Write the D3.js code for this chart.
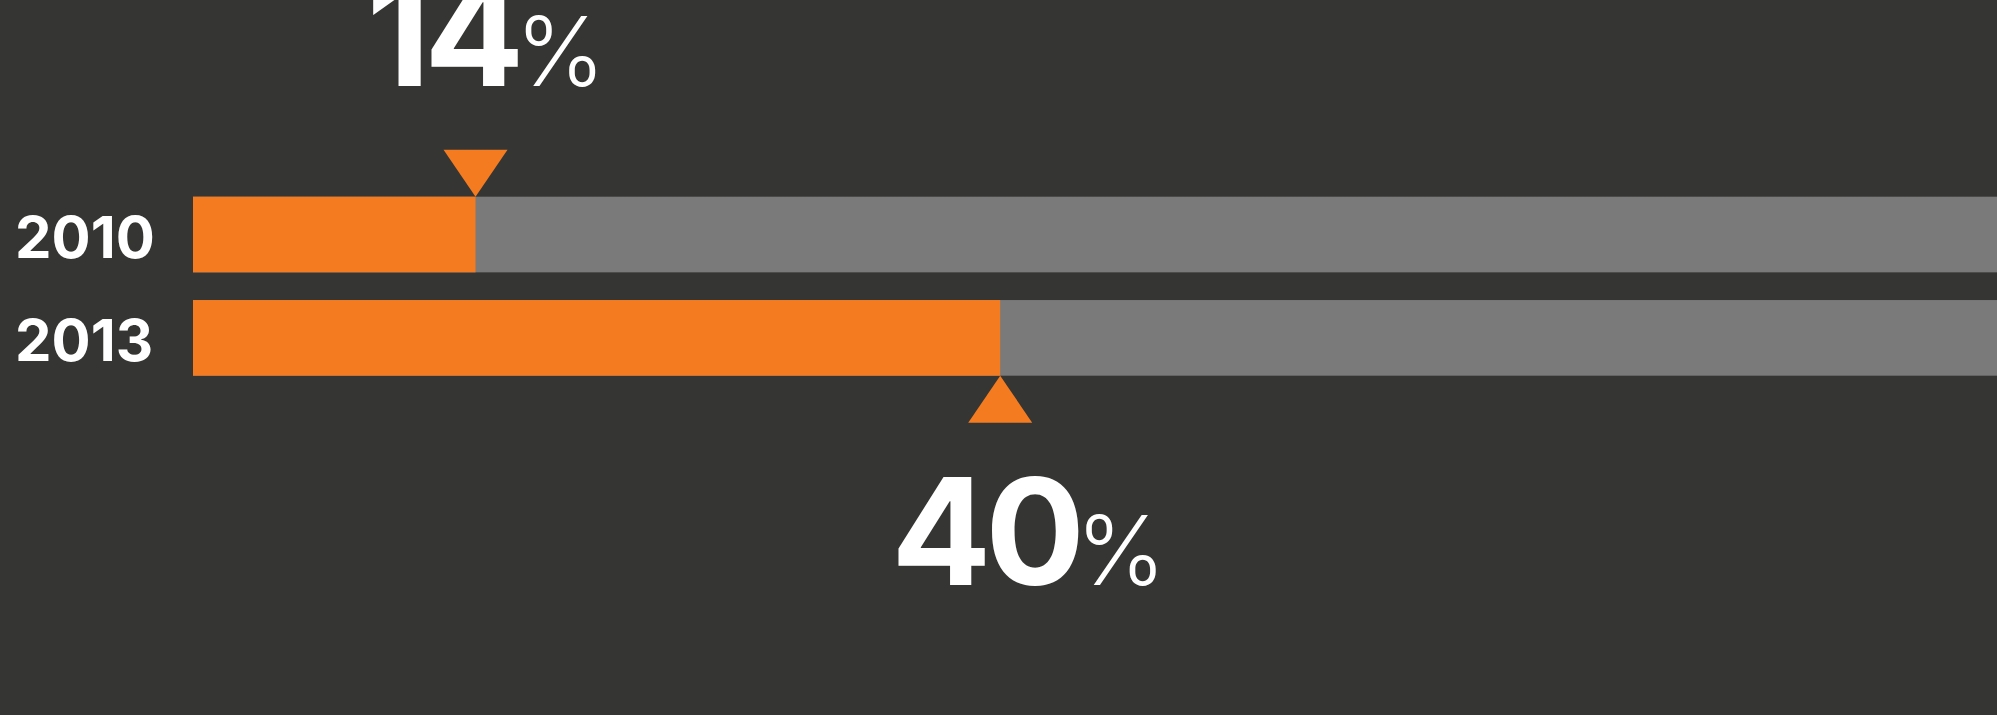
<!DOCTYPE html>
<html>
<head>
<meta charset="utf-8">
<script src="https://cdn.jsdelivr.net/npm/d3@7"></script>
<style>
  html, body { margin: 0; padding: 0; background: #353533; overflow: hidden; }
  svg { display: block; }
</style>
</head>
<body>
<svg id="chart"></svg>
<script>
// data
const years = ['2010', '2013'];
const shares = [14, 40];          // percent, orange part of each bar
const domainMax = 100;

// layout
const W = 1997, H = 715;
const ORANGE = '#f47b20', GREY = '#7a7a7a', BG = '#353533';
const FONT = 'Inter, Roboto, sans-serif';

const svg = d3.select('#chart').attr('width', W).attr('height', H);
svg.append('rect').attr('width', W).attr('height', H).attr('fill', BG);

const x = d3.scaleLinear().domain([0, domainMax]).range([193, 2211]);
const y = d3.scaleBand().domain(years).range([196.7, 375.7]).paddingInner(0.268);

const rows = years.map((yr, i) => ({ year: yr, value: shares[i], up: i === 0 }));

// grey track (full 100%, runs off the right edge)
svg.append('g').selectAll('rect')
  .data(rows).join('rect')
  .attr('x', x(0))
  .attr('y', d => y(d.year))
  .attr('width', x(domainMax) - x(0))
  .attr('height', y.bandwidth())
  .attr('fill', GREY);

// orange value
svg.append('g').selectAll('rect')
  .data(rows).join('rect')
  .attr('x', x(0))
  .attr('y', d => y(d.year))
  .attr('width', d => x(d.value) - x(0))
  .attr('height', y.bandwidth())
  .attr('fill', ORANGE);

// year labels
svg.append('g').selectAll('text')
  .data(rows).join('text')
  .attr('x', 15)
  .attr('y', d => y(d.year) + y.bandwidth() / 2 + 23.5)
  .attr('fill', '#fff')
  .attr('font-family', FONT)
  .attr('font-weight', 700)
  .attr('font-size', 58)
  .text(d => d.year);

// triangle markers: first one above pointing down, second below pointing up
const triW = 64, triH = 47;
svg.append('g').selectAll('path')
  .data(rows).join('path')
  .attr('fill', ORANGE)
  .attr('d', d => {
    const cx = x(d.value);
    if (d.up) {
      const ty = y(d.year);
      return `M${cx - triW / 2},${ty - triH}L${cx + triW / 2},${ty - triH}L${cx},${ty}Z`;
    }
    const by = y(d.year) + y.bandwidth();
    return `M${cx},${by}L${cx + triW / 2},${by + triH}L${cx - triW / 2},${by + triH}Z`;
  });

// big value labels
const big = svg.append('g').selectAll('text')
  .data(rows).join('text')
  .attr('x', d => x(d.value) - 109)
  .attr('y', d => d.up ? y(d.year) - 111 : y(d.year) + y.bandwidth() + 209)
  .attr('fill', '#fff')
  .attr('font-family', FONT);

big.append('tspan')
  .attr('font-weight', 700)
  .attr('font-size', 148)
  .attr('letter-spacing', -6)
  .text(d => d.value);

big.append('tspan')
  .attr('dx', -3)
  .attr('font-weight', 300)
  .attr('font-size', 96)
  .text('%');
</script>
</body>
</html>
